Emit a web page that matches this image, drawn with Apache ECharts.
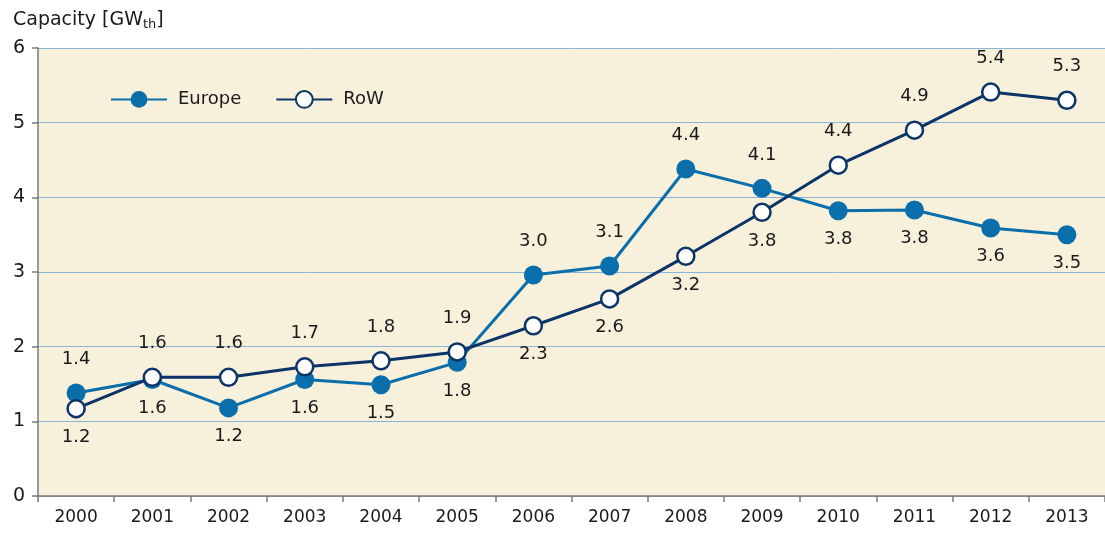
<!DOCTYPE html>
<html>
<head>
<meta charset="utf-8">
<script src="https://cdn.jsdelivr.net/npm/echarts@6/dist/echarts.min.js"></script>
<style>
html, body { margin: 0; padding: 0; background: #fff; }
#chart { width: 1105px; height: 536px; }
</style>
</head>
<body>
<div id="chart"></div>
<script>
// data
var years = ['2000', '2001', '2002', '2003', '2004', '2005', '2006', '2007', '2008', '2009', '2010', '2011', '2012', '2013'];
var europe = [1.38, 1.56, 1.18, 1.56, 1.49, 1.79, 2.96, 3.08, 4.38, 4.12, 3.82, 3.83, 3.59, 3.50];
var row = [1.17, 1.59, 1.59, 1.73, 1.81, 1.93, 2.28, 2.64, 3.21, 3.80, 4.43, 4.90, 5.41, 5.30];

// where each value label sits
var europeLabelPos = ['top', 'bottom', 'bottom', 'bottom', 'bottom', 'bottom', 'top', 'top', 'top', 'top', 'bottom', 'bottom', 'bottom', 'bottom'];
var rowLabelPos = ['bottom', 'top', 'top', 'top', 'top', 'top', 'bottom', 'bottom', 'bottom', 'bottom', 'top', 'top', 'top', 'top'];

var FONT = 'DejaVu Sans';

function withLabels(values, positions) {
	var list = [];
	for (var i = 0; i < values.length; i++) {
		list.push({
			value: values[i],
			label: {
				position: positions[i],
				distance: positions[i] == 'top' ? 15 : 10
			}
		});
	}
	return list;
}

var chart = echarts.init(document.getElementById('chart'));
var options = {
	animation: false,
	textStyle: { fontFamily: FONT },
	title: {
		left: 8,
		top: 5,
		text: '{a|Capacity [GW}{s|th}{a|]}',
		textStyle: {
			fontWeight: 'normal',
			rich: {
				a: { fontFamily: FONT, fontSize: 19, fontWeight: 'normal', color: '#1a1a1a' },
				s: { fontFamily: FONT, fontSize: 13, fontWeight: 'normal', color: '#1a1a1a', padding: [8, 0, 0, 0] }
			}
		}
	},
	legend: {
		left: 105,
		top: 85,
		itemWidth: 56,
		itemHeight: 21,
		itemGap: 34,
		textStyle: { fontFamily: FONT, fontSize: 18, color: '#1a1a1a', padding: [0, 0, 0, 6] },
		data: ['Europe', 'RoW']
	},
	grid: {
		left: 38,
		right: 0,
		top: 48,
		bottom: 40,
		show: true,
		backgroundColor: '#f7f1dc',
		borderWidth: 0
	},
	xAxis: {
		type: 'category',
		boundaryGap: true,
		data: years,
		axisLine: { lineStyle: { color: '#7a7a7a', width: 1.5 } },
		axisTick: { show: true, length: 6, lineStyle: { color: '#7a7a7a', width: 1.5 } },
		axisLabel: { fontFamily: FONT, fontSize: 17, color: '#1a1a1a', margin: 13 }
	},
	yAxis: {
		type: 'value',
		min: 0,
		max: 6,
		interval: 1,
		axisLine: { show: true, lineStyle: { color: '#7a7a7a', width: 1.5 } },
		axisTick: { show: true, length: 6, lineStyle: { color: '#7a7a7a', width: 1.5 } },
		axisLabel: { fontFamily: FONT, fontSize: 19, color: '#1a1a1a', margin: 13 },
		splitLine: { lineStyle: { color: '#8db3d6', width: 1 } }
	},
	series: [
		{
			name: 'Europe',
			type: 'line',
			z: 3,
			data: withLabels(europe, europeLabelPos),
			symbol: 'circle',
			symbolSize: 19,
			color: '#0a6eab',
			lineStyle: { color: '#0a6eab', width: 3 },
			itemStyle: { color: '#0a6eab', borderColor: '#0a6eab', borderWidth: 0 },
			label: {
				show: true,
				fontFamily: FONT,
				fontSize: 18,
				color: '#1a1a1a',
				formatter: function (p) { return p.value.toFixed(1); }
			}
		},
		{
			name: 'RoW',
			type: 'line',
			z: 4,
			data: withLabels(row, rowLabelPos),
			symbol: 'circle',
			symbolSize: 17,
			color: '#0c3467',
			lineStyle: { color: '#0c3467', width: 3 },
			itemStyle: { color: '#ffffff', borderColor: '#0c3467', borderWidth: 2.5 },
			label: {
				show: true,
				fontFamily: FONT,
				fontSize: 18,
				color: '#1a1a1a',
				formatter: function (p) { return p.value.toFixed(1); }
			}
		}
	]
};
chart.setOption(options);
</script>
</body>
</html>
